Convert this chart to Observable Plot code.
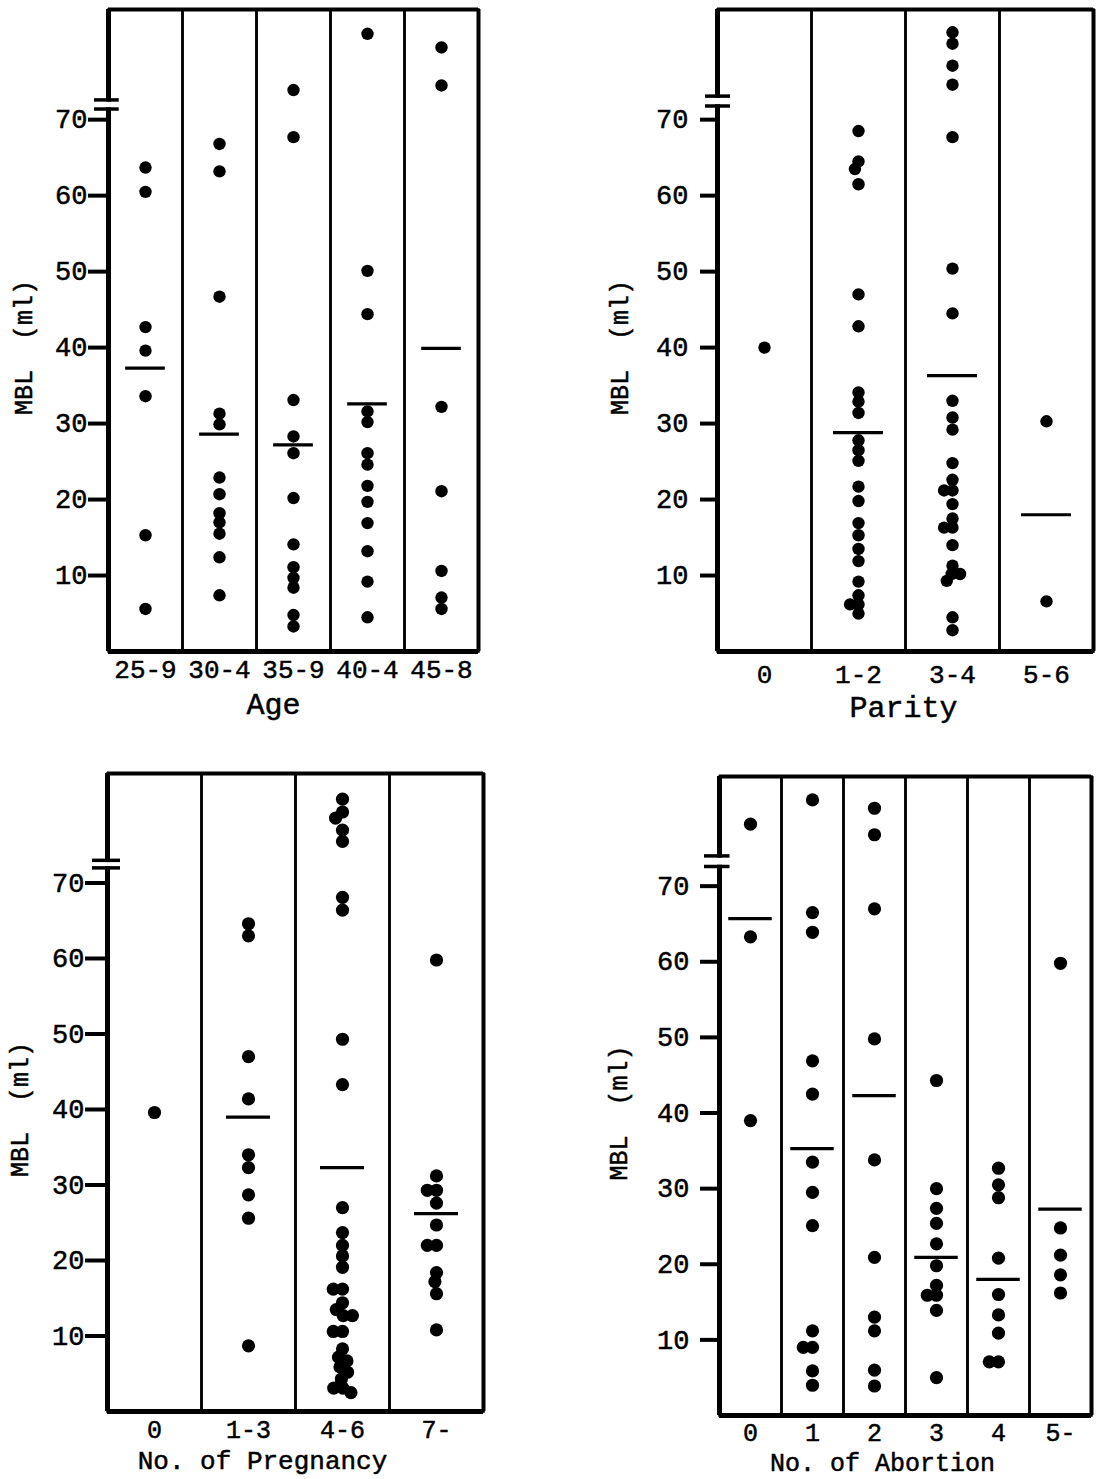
<!DOCTYPE html>
<html><head><meta charset="utf-8">
<script src="https://cdn.jsdelivr.net/npm/d3@7"></script>
<script src="https://cdn.jsdelivr.net/npm/@observablehq/plot@0.6"></script>
<style>
html,body{margin:0;padding:0;background:#fff;}
#wrap{position:relative;width:1102px;height:1479px;background:#fff;overflow:hidden;}
#wrap > .panel{position:absolute;}
#wrap svg text{stroke:#000;stroke-width:0.5px;}
</style></head><body><div id="wrap"></div>
<script>
// ---------- data ----------
const yTicks = [10, 20, 30, 40, 50, 60, 70];
const yLabel = "MBL\u00a0\u00a0(ml)";

const ageCats = ["25-9", "30-4", "35-9", "40-4", "45-8"];
const ageValues = [
  [63.7, 60.5, 42.7, 39.6, 33.6, 15.3, 5.6],
  [66.8, 63.2, 46.7, 31.3, 29.9, 22.9, 20.7, 18.2, 17.0, 15.5, 12.4, 7.4],
  [73.9, 67.7, 33.1, 28.3, 26.1, 20.2, 14.1, 11.1, 9.7, 8.4, 4.8, 3.3],
  [81.3, 50.1, 44.4, 31.6, 30.2, 26.1, 24.6, 21.8, 19.7, 16.9, 13.2, 9.2, 4.5],
  [79.5, 74.5, 32.2, 21.1, 10.6, 7.1, 5.6]
];
const ageMeans = [37.3, 28.6, 27.2, 32.6, 39.9];
const ageBreaks = [72.6, 71.4];

const parityCats = ["0", "1-2", "3-4", "5-6"];
const parityValues = [
  [40.0],
  [68.5, 64.5, 63.5, 61.5, 47.0, 42.8, 34.1, 32.9, 31.4, 27.8, 26.5, 25.1, 21.7, 19.8, 16.9, 15.3, 13.5, 11.9, 9.2, 7.4, 6.2, 6.2, 5.0],
  [81.5, 80.0, 77.1, 74.6, 67.7, 50.4, 44.5, 33.0, 30.8, 29.2, 24.8, 22.6, 21.2, 21.2, 19.4, 17.5, 16.3, 16.3, 14.0, 11.3, 10.2, 10.2, 9.3, 4.5, 2.8],
  [30.3, 6.6]
];
const parityMeans = [null, 28.8, 36.3, 18.0];
const parityBreaks = [73.1, 71.8];

const pregCats = ["0", "1-3", "4-6", "7-"];
const pregValues = [
  [39.6],
  [64.6, 63.0, 47.0, 41.4, 34.0, 32.3, 28.7, 25.6, 8.7],
  [81.1, 79.4, 78.6, 77.0, 75.5, 68.1, 66.4, 49.3, 43.3, 27.0, 23.7, 22.0, 20.6, 19.1, 16.2, 16.2, 14.4, 13.5, 12.7, 12.7, 10.6, 10.6, 8.3, 7.2, 6.7, 5.9, 5.2, 4.3, 3.1, 3.1, 2.5],
  [59.8, 31.2, 29.3, 29.3, 27.6, 24.7, 22.0, 22.0, 18.4, 17.2, 15.6, 10.8]
];
const pregMeans = [null, 39.0, 32.3, 26.2];
const pregBreaks = [73.0, 72.0];

const abortCats = ["0", "1", "2", "3", "4", "5-"];
const abortValues = [
  [78.2, 63.3, 39.0],
  [81.4, 66.5, 63.9, 46.9, 42.5, 33.5, 29.5, 25.1, 11.2, 9.0, 9.0, 5.9, 4.0],
  [80.3, 76.8, 67.0, 49.8, 33.8, 20.9, 13.0, 11.2, 6.0, 3.9],
  [44.3, 30.0, 27.4, 25.4, 22.7, 19.8, 17.2, 15.9, 15.9, 13.9, 5.0],
  [32.7, 30.5, 28.8, 20.8, 16.0, 13.3, 10.9, 7.1, 7.1],
  [59.8, 24.8, 21.2, 18.6, 16.2]
];
const abortMeans = [65.7, 35.3, 42.3, 20.9, 18.0, 27.3];
const abortBreaks = [74.0, 72.6];

const Y_MAX = 84.5;
const FONT = "'Liberation Mono', 'Courier New', monospace";

// ---------- layout / style of each panel ----------
const panels = [
  {cats: ageCats, values: ageValues, means: ageMeans, breaks: ageBreaks, title: "Age",
   left: 0, top: 0, width: 551, height: 740, ml: 107.5, mr: 72, mt: 9, mb: 89,
   tickSize: 20, tickPad: 1, xPad: 8, xSize: 26, titleFacet: 2, titleAnchor: "bottom", titleDx: -20, titleDy: 53, titleSize: 30,
   ylDx: -85, meanLen: 40, r: 6.2, brL: -14, brR: 11},
  {cats: parityCats, values: parityValues, means: parityMeans, breaks: parityBreaks, title: "Parity",
   left: 551, top: 0, width: 551, height: 740, ml: 166, mr: 9, mt: 9, mb: 89,
   tickSize: 17, tickPad: 12, xPad: 13, xSize: 26, titleFacet: 1, titleAnchor: "bottom-right", titleDx: -2, titleDy: 56, titleSize: 30,
   ylDx: -98, meanLen: 50, r: 6.2, brL: -12, brR: 13},
  {cats: pregCats, values: pregValues, means: pregMeans, breaks: pregBreaks, title: "No. of Pregnancy",
   left: 0, top: 740, width: 551, height: 739, ml: 107, mr: 68, mt: 33, mb: 68,
   tickSize: 22, tickPad: 1, xPad: 9, xSize: 25, titleFacet: 1, titleAnchor: "bottom-right", titleDx: -33, titleDy: 49, titleSize: 26,
   ylDx: -88, meanLen: 44, r: 6.6, brL: -15, brR: 13},
  {cats: abortCats, values: abortValues, means: abortMeans, breaks: abortBreaks, title: "No. of Abortion",
   left: 551, top: 740, width: 551, height: 739, ml: 166, mr: 10, mt: 36, mb: 64,
   tickSize: 19, tickPad: 11, xPad: 8, xSize: 25, titleFacet: 2, titleAnchor: "bottom-right", titleDx: -23, titleDy: 47, titleSize: 25,
   ylDx: -101, meanLen: 44, r: 6.6, brL: -15, brR: 11}
];

function makePanel(p) {
  const n = p.cats.length;
  const dots = p.cats.flatMap((c, i) => p.values[i].map(v => ({cat: c, v})));
  const meanRows = p.cats.map((c, i) => ({cat: c, v: p.means[i]})).filter(d => d.v != null);
  const breakRows = p.breaks.map(v => ({cat: p.cats[0], v}));
  const gapRows = [{cat: p.cats[0], v: (p.breaks[0] + p.breaks[1]) / 2}];
  const bw = (p.width - p.ml - p.mr) / n;
  const ppu = (p.height - p.mt - p.mb) / Y_MAX;
  const inset = (bw - p.meanLen) / 2;
  const gapW = Math.max(1, Math.abs(p.breaks[0] - p.breaks[1]) * ppu - 3.5);
  return Plot.plot({
    width: p.width, height: p.height,
    marginLeft: p.ml, marginRight: p.mr, marginTop: p.mt, marginBottom: p.mb,
    fx: {domain: p.cats, padding: 0, axis: null, label: null},
    x: {domain: [0, 1], axis: null},
    y: {domain: [0, Y_MAX], axis: null},
    style: {fontFamily: FONT, fontSize: "26px", color: "#000", background: "#fff", overflow: "visible"},
    marks: [
      Plot.frame({strokeWidth: 2.5}),
      Plot.ruleY([0], {strokeWidth: 5}),
      Plot.ruleY([Y_MAX], {strokeWidth: 4}),
      Plot.ruleX([p.cats[0]], {fx: d => d, x: () => 0, strokeWidth: 5}),
      Plot.ruleX([p.cats[n - 1]], {fx: d => d, x: () => 1, strokeWidth: 4}),
      Plot.tickY(gapRows, {fx: "cat", y: "v", stroke: "#fff", strokeWidth: gapW, insetLeft: -4, insetRight: bw - 4}),
      Plot.tickY(breakRows, {fx: "cat", y: "v", strokeWidth: 3.5, insetLeft: p.brL, insetRight: bw - p.brR}),
      Plot.tickY(meanRows, {fx: "cat", y: "v", strokeWidth: 3.2, insetLeft: inset, insetRight: inset}),
      Plot.dot(dots, Plot.dodgeX({anchor: "middle", padding: -4}, {fx: "cat", y: "v", r: p.r, fill: "#000", stroke: "none"})),
      Plot.axisY({ticks: yTicks, anchor: "left", tickSize: p.tickSize, tickPadding: p.tickPad, strokeWidth: 4,
                  fontSize: 27, label: null, tickFormat: d => String(d)}),
      Plot.axisFx({anchor: "bottom", tickSize: 0, tickPadding: p.xPad, fontSize: p.xSize, label: null}),
      Plot.text([{cat: p.cats[0], v: 40}], {fx: "cat", y: "v", text: () => yLabel, frameAnchor: "left",
                  rotate: -90, dx: p.ylDx, textAnchor: "middle", lineAnchor: "middle", fontSize: 25}),
      Plot.text([{cat: p.cats[p.titleFacet]}], {fx: "cat", text: () => p.title, frameAnchor: p.titleAnchor,
                  textAnchor: "middle", lineAnchor: "middle", dx: p.titleDx, dy: p.titleDy, fontSize: p.titleSize})
    ]
  });
}

const wrap = document.getElementById("wrap");
for (const p of panels) {
  const div = document.createElement("div");
  div.className = "panel";
  div.style.left = p.left + "px";
  div.style.top = p.top + "px";
  div.appendChild(makePanel(p));
  wrap.appendChild(div);
}
</script>
</body></html>
